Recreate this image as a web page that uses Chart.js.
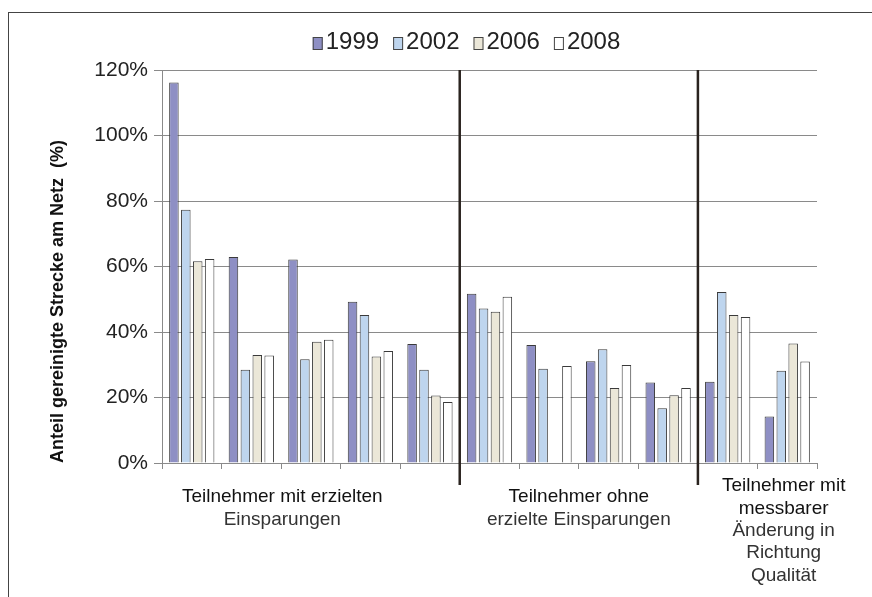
<!DOCTYPE html>
<html>
<head>
<meta charset="utf-8">
<script src="https://cdn.jsdelivr.net/npm/chart.js@4"></script>
<style>
  html, body { margin: 0; padding: 0; background: #fff; }
  canvas { display: block; }
</style>
</head>
<body>
<canvas id="strecke" width="872" height="597"></canvas>
<script>
// Anteil gereinigte Strecke am Netz, je Teilnehmer und Jahr

const categories = ['T1', 'T2', 'T3', 'T4', 'T5', 'T6', 'T7', 'T8', 'T9', 'T10', 'T11'];
const years = ['1999', '2002', '2006', '2008'];

const values1999 = [116.2, 62.9, 62.1, 49.2, 36.3, 51.7, 36.0, 31.1, 24.6, 24.8, 14.2];
const values2002 = [77.3, 28.5, 31.7, 45.2, 28.5, 47.2, 28.8, 34.7, 16.7, 52.2, 28.2];
const values2006 = [61.6, 33.0, 37.0, 32.5, 20.6, 46.2, null, 22.9, 20.7, 45.2, 36.5];
const values2008 = [62.3, 32.8, 37.6, 34.2, 18.6, 50.8, 29.6, 29.9, 22.9, 44.6, 31.0];

const yTicks = [0, 20, 40, 60, 80, 100, 120];

// Gruppen unter der x-Achse
const groupLabels = [
  ['Teilnehmer mit erzielten', 'Einsparungen'],
  ['Teilnehmer ohne', 'erzielte Einsparungen'],
  ['Teilnehmer mit', 'messbarer', 'Änderung in', 'Richtung', 'Qualität']
];
const groupLabelAt = [1.52, 6.5, 9.94];
const dividerAfter = [4, 8];

const colors = ['#8e8fc4', '#bed5ee', '#ebe7d8', '#ffffff'];
const FONT = '"Liberation Sans", Arial, sans-serif';

document.addEventListener("DOMContentLoaded", function () {

  const seriesValues = [values1999, values2002, values2006, values2008];

  const data = {
    labels: categories,
    datasets: years.map(function (y, i) {
      return {
        label: y,
        data: seriesValues[i],
        backgroundColor: colors[i],
        borderColor: '#3a3a3a',
        borderWidth: 1,
        categoryPercentage: 0.8,
        barPercentage: 0.8
      };
    })
  };

  const extras = {
    id: 'extras',
    beforeDraw(chart) {
      const ctx = chart.ctx;
      ctx.save();
      ctx.strokeStyle = '#444';
      ctx.lineWidth = 1;
      ctx.strokeRect(8.5, 12.5, 1000, 1000);
      ctx.restore();
    },
    afterDatasetsDraw(chart) {
      const ctx = chart.ctx;
      const x = chart.scales.x;
      const area = chart.chartArea;
      ctx.save();
      ctx.strokeStyle = '#2a231f';
      ctx.lineWidth = 2.5;
      dividerAfter.forEach(function (i) {
        const px = (x.getPixelForValue(i) + x.getPixelForValue(i + 1)) / 2;
        ctx.beginPath();
        ctx.moveTo(px, area.top);
        ctx.lineTo(px, area.bottom + 22);
        ctx.stroke();
      });
      ctx.restore();
    },
    afterDraw(chart) {
      const ctx = chart.ctx;
      const x = chart.scales.x;
      ctx.save();

      // Legende
      ctx.font = '24px ' + FONT;
      ctx.textBaseline = 'middle';
      ctx.textAlign = 'left';
      const boxW = 10, boxH = 13, gap = 3, spacing = 14;
      const widths = years.map(function (y) { return ctx.measureText(y).width; });
      let total = 0;
      widths.forEach(function (w) { total += boxW + gap + w; });
      total += spacing * (years.length - 1);
      let lx = 466.5 - total / 2;
      years.forEach(function (y, i) {
        ctx.fillStyle = colors[i];
        ctx.fillRect(lx, 37, boxW, boxH);
        ctx.strokeStyle = '#444';
        ctx.lineWidth = 1;
        ctx.strokeRect(lx + 0.5, 37.5, boxW - 1, boxH - 1);
        ctx.fillStyle = '#222';
        ctx.fillText(y, lx + boxW + gap, 42);
        lx += boxW + gap + widths[i] + spacing;
      });

      // Gruppenbeschriftung
      ctx.font = '19px ' + FONT;
      ctx.textAlign = 'center';
      groupLabels.forEach(function (lines, g) {
        const px = x.getPixelForValue(groupLabelAt[g]);
        const top = lines.length > 2 ? 486 : 497;
        lines.forEach(function (line, k) {
          ctx.fillStyle = (k === 0 || (g === 2 && k === 1)) ? '#111' : '#333';
          ctx.fillText(line, px, top + k * 22.4);
        });
      });
      ctx.restore();
    }
  };

  const config = {
    type: 'bar',
    data,
    options: {
      responsive: false,
      animation: false,
      layout: { padding: { top: 70, right: 55, bottom: 0, left: 0 } },
      plugins: {
        legend: { display: false },
        tooltip: { enabled: false }
      },
      scales: {
        x: {
          grid: {
            display: true,
            drawOnChartArea: false,
            drawTicks: true,
            tickLength: 6,
            color: '#8a8a8a'
          },
          border: { display: true, color: '#8a8a8a' },
          ticks: { display: false },
          afterFit: function (scale) { scale.height = 134; }
        },
        y: {
          min: 0,
          max: 120,
          afterBuildTicks: function (scale) {
            scale.ticks = yTicks.map(function (v) { return { value: v }; });
          },
          grid: {
            color: '#8a8a8a',
            tickLength: 8
          },
          border: { display: true, color: '#8a8a8a' },
          ticks: {
            padding: 6,
            color: '#222',
            font: { family: FONT, size: 21 },
            callback: function (v) { return v + '%'; }
          },
          title: {
            display: true,
            text: 'Anteil gereinigte Strecke am Netz  (%)',
            align: 'start',
            color: '#111',
            font: { family: FONT, size: 18, weight: 'bold' },
            padding: { top: 47, bottom: 0 }
          },
          afterFit: function (scale) { scale.width = 162; }
        }
      }
    },
    plugins: [extras]
  };

  new Chart(
    document.getElementById('strecke'),
    config
  );
});
</script>
</body>
</html>
